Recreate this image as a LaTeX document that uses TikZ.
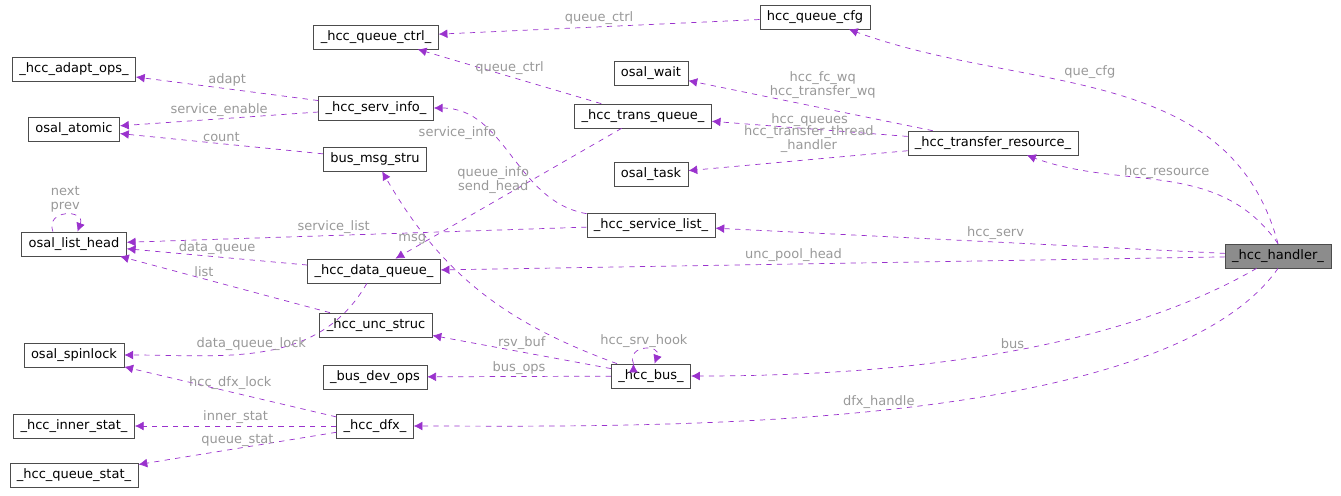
\documentclass[tikz,border=0pt]{standalone}
\usepackage{fontspec}
\setmainfont{DejaVu Sans}
\usetikzlibrary{arrows.meta}
\definecolor{edgec}{HTML}{9A32CD}
\tikzset{
  cls/.style={draw=black!70,fill=white,text=black,font=\fontsize{7.4}{8}\selectfont,inner xsep=4pt,inner ysep=2pt,minimum height=0.48cm},
  rel/.style={color=edgec,dashed,-{Latex[length=5pt,width=5pt]}},
  lab/.style={text=black!40,font=\fontsize{7.4}{8}\selectfont,align=center,inner sep=1pt}
}
\begin{document}
\begin{tikzpicture}[x=0.02cm,y=-0.02cm]
    \useasboundingbox (0,0) rectangle (1341,495);
    % classes
    \node[cls] (qcfg) at (815,17) {hcc\_queue\_cfg};
    \node[cls] (qctrl) at (376,37) {\_hcc\_queue\_ctrl\_};
    \node[cls] (adapt) at (74,69) {\_hcc\_adapt\_ops\_};
    \node[cls] (wait) at (651,73) {osal\_wait};
    \node[cls] (servinfo) at (376,108) {\_hcc\_serv\_info\_};
    \node[cls] (tqueue) at (643,116) {\_hcc\_trans\_queue\_};
    \node[cls] (atomic) at (74,129) {osal\_atomic};
    \node[cls] (tres) at (993,143) {\_hcc\_transfer\_resource\_};
    \node[cls] (msg) at (375,159) {bus\_msg\_stru};
    \node[cls] (task) at (651,174) {osal\_task};
    \node[cls] (slist) at (651,225) {\_hcc\_service\_list\_};
    \node[cls] (lhead) at (74,244) {osal\_list\_head};
    \node[cls,fill=black!45] (handler) at (1278,256) {\_hcc\_handler\_};
    \node[cls] (dqueue) at (374,271) {\_hcc\_data\_queue\_};
    \node[cls] (unc) at (376,325) {\_hcc\_unc\_struc};
    \node[cls] (spin) at (74,355) {osal\_spinlock};
    \node[cls] (devops) at (375,377) {\_bus\_dev\_ops};
    \node[cls] (bus) at (651,376) {\_hcc\_bus\_};
    \node[cls] (inner) at (74,426) {\_hcc\_inner\_stat\_};
    \node[cls] (dfx) at (375,426) {\_hcc\_dfx\_};
    \node[cls] (qstat) at (74,475) {\_hcc\_queue\_stat\_};

    % members
    \draw[rel]
        (handler.north) edge[out=105,in=-20] node[lab,pos=0.6,above right] {que\_cfg} (qcfg)
        (handler.north) edge[out=125,in=-20] node[lab,pos=0.5,above] {hcc\_resource} (tres)
        (handler) edge node[lab,pos=0.45,above] {hcc\_serv} (slist)
        (handler) edge node[lab,pos=0.55,above] {unc\_pool\_head} (dqueue)
        (handler) edge[out=-150,in=0,looseness=0.8] node[lab,pos=0.45,above] {bus} (bus)
        (handler.south) edge[out=-125,in=0,looseness=0.6] node[lab,pos=0.5,above] {dfx\_handle} (dfx)
        (qcfg) edge node[lab,above] {queue\_ctrl} (qctrl)
        (tqueue) edge node[lab,above] {queue\_ctrl} (qctrl)
        (servinfo) edge node[lab,above] {adapt} (adapt)
        (servinfo) edge node[lab,above] {service\_enable} (atomic)
        (msg) edge node[lab,above] {count} (atomic)
        (tres) edge node[lab,above=4pt,pos=0.45] {hcc\_fc\_wq\\hcc\_transfer\_wq} (wait)
        (tres) edge node[lab,above,pos=0.5] {hcc\_queues} (tqueue)
        (tres) edge node[lab,above=3pt,pos=0.45] {hcc\_transfer\_thread\\\_handler} (task)
        (slist) edge[out=170,in=0] node[lab,pos=0.6,above left] {service\_info} (servinfo)
        (tqueue) edge node[lab,pos=0.4,left] {queue\_info\\send\_head} (dqueue)
        (slist) edge node[lab,above,pos=0.55] {service\_list} (lhead)
        ([xshift=-12pt]lhead.north) edge[out=110,in=70,looseness=2.5] node[lab,above] {next\\prev} ([xshift=2pt]lhead.north)
        (dqueue) edge node[lab,above] {data\_queue} (lhead)
        (bus) edge[out=160,in=-60] node[lab,pos=0.75,left] {msg} (msg)
        (unc) edge node[lab,above,pos=0.6] {list} (lhead)
        (dqueue) edge[out=-120,in=0] node[lab,pos=0.55,above] {data\_queue\_lock} (spin)
        (bus) edge node[lab,above] {rsv\_buf} (unc)
        ([xshift=-10pt]bus.north) edge[out=110,in=70,looseness=2.5] node[lab,above] {hcc\_srv\_hook} ([xshift=2pt]bus.north)
        (bus) edge node[lab,above] {bus\_ops} (devops)
        (dfx) edge node[lab,above] {hcc\_dfx\_lock} (spin)
        (dfx) edge node[lab,above] {inner\_stat} (inner)
        (dfx) edge node[lab,above] {queue\_stat} (qstat);
\end{tikzpicture}
\end{document}
